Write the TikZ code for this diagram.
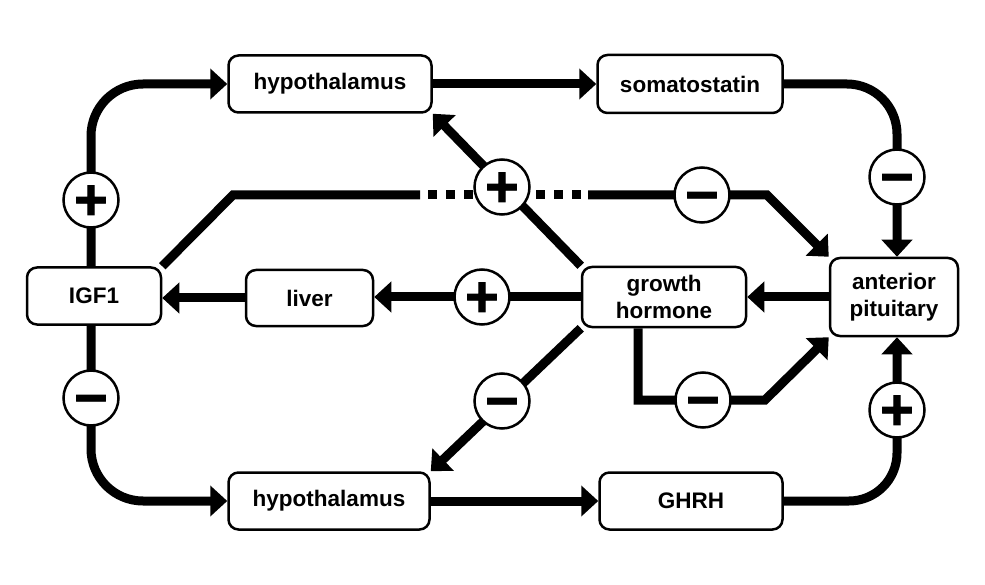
\documentclass[tikz,border=0pt]{standalone}
\usepackage{fontspec}
\setmainfont{Liberation Sans}
\newfontfamily\signfont[FakeBold=1.2]{Liberation Sans Bold}
\usetikzlibrary{arrows.meta}
\pgfdeclarelayer{background}
\pgfsetlayers{background,main}
\tikzset{
  box/.style={draw, line width=2.5pt, rounded corners=10pt, fill=white,
    inner sep=0pt, align=center, font=\fontsize{22.5}{27}\selectfont\bfseries},
  sig/.style={circle, draw, line width=2.5pt, fill=white, minimum size=55pt,
    inner sep=0pt, font=\fontsize{58}{58}\selectfont\signfont,
    text height=39pt, text depth=0pt},
  conn/.style={line width=9pt, line join=miter},
  arr/.style={conn, -{Triangle[length=17pt,width=30pt]}},
  dotline/.style={line width=9pt, dash pattern=on 9pt off 9pt}
}
\begin{document}
\begin{tikzpicture}[x=1pt, y=-1pt]
\useasboundingbox (0,0) rectangle (985,585);
% boxes
\node[box, minimum width=203pt, minimum height=57pt] (hyT) at (330,84) {hypothalamus};
\node[box, minimum width=185pt, minimum height=58pt] (som) at (690,84) {somatostatin};
\node[box, minimum width=134pt, minimum height=57pt] (igf) at (94,296) {IGF1};
\node[box, minimum width=127pt, minimum height=56pt] (liv) at (309.5,298) {liver};
\node[box, minimum width=164pt, minimum height=60pt] (gh) at (664,297) {growth\\hormone};
\node[box, minimum width=128pt, minimum height=78pt] (ap) at (894,297) {anterior\\pituitary};
\node[box, minimum width=201pt, minimum height=57pt] (hyB) at (329,501) {hypothalamus};
\node[box, minimum width=183pt, minimum height=57pt] (ghrh) at (691,501) {GHRH};
% signs
\node[sig] (sL1) at (91,200) {+};
\node[sig] (sL2) at (91,398) {−};
\node[sig] (sC) at (502,187) {+};
\node[sig] (sD) at (702,195) {−};
\node[sig] (sR1) at (897,177) {−};
\node[sig] (sR2) at (897,410) {+};
\node[sig] (sLv) at (482,297) {+};
\node[sig] (sDl) at (502,401) {−};
\node[sig] (sGh) at (703,400) {−};
% helper points
\coordinate (k1) at (233,195);
\coordinate (k2) at (420,195);
\coordinate (k3) at (428,195);
\coordinate (k4) at (581,195);
\coordinate (k5) at (588,195);
\coordinate (k7) at (767,195);
\coordinate (k6) at (765,400);
% connectors
\begin{pgfonlayer}{background}
\draw[arr, rounded corners=52pt] (igf.north -| sL1) |- (hyT.west);
\draw[arr] (hyT) -- (som);
\draw[arr, rounded corners=50pt] (som.east) -| (ap.north -| sR1);
\draw[arr, rounded corners=48pt] (ghrh.east) -| (ap.south -| sR2);
\draw[arr, rounded corners=52pt] (igf.south -| sL2) |- (hyB.west);
\draw[arr] (hyB) -- (ghrh);
\draw[arr] (ap) -- (gh);
\draw[arr] (gh.west) -- (liv.east |- gh.west);
\draw[arr] (liv.west) -- (igf.east |- liv.west);
\draw[arr] (gh.north west) -- (hyT.south east);
\draw[arr] (gh.south west) -- (hyB.north east);
\draw[conn] (igf.north east) -- (k1) -- (k2);
\draw[dotline] (k3) -- (k4);
\draw[arr] (k5) -- (k7) -- (ap.north west);
\draw[arr] ([xshift=-26pt]gh.south) |- (k6) -- (ap.south west);
\end{pgfonlayer}
\end{tikzpicture}
\end{document}
